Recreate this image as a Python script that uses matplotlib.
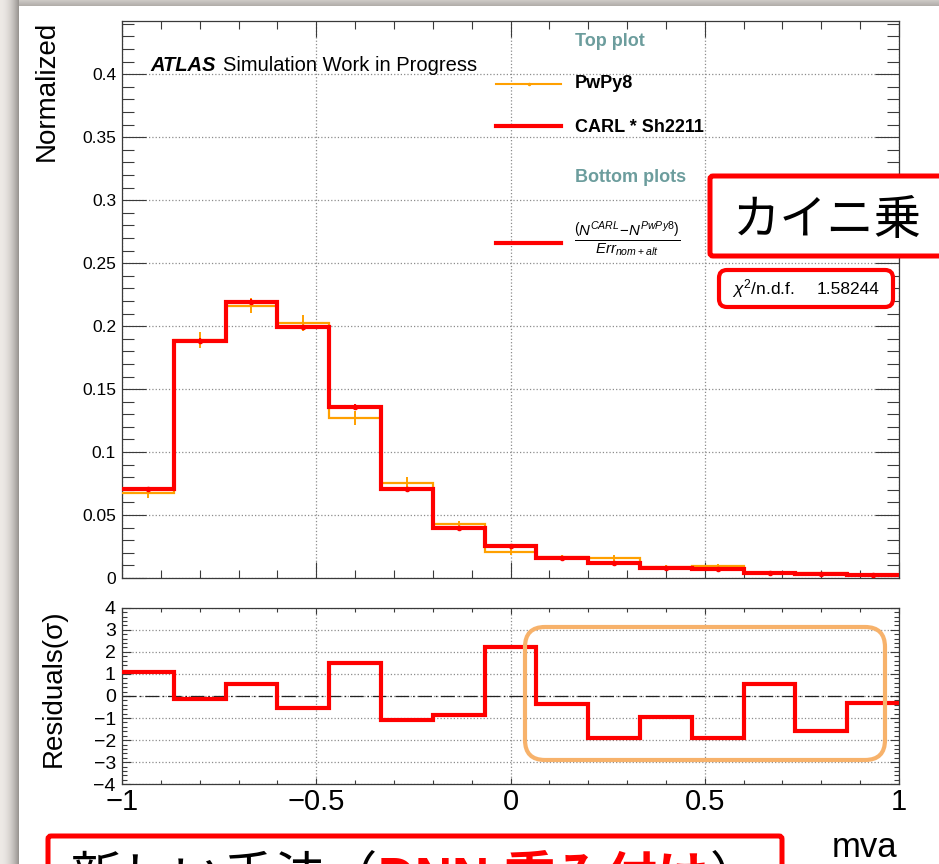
import numpy as np
import matplotlib
matplotlib.use('Agg')
import matplotlib.pyplot as plt
from matplotlib.patches import FancyBboxPatch
from matplotlib.lines import Line2D
from matplotlib.ticker import MultipleLocator, FuncFormatter

plt.rcParams['font.family'] = ['Liberation Sans', 'Noto Sans CJK JP', 'DejaVu Sans']
plt.rcParams['mathtext.fontset'] = 'custom'
plt.rcParams['mathtext.rm'] = 'Liberation Sans'
plt.rcParams['mathtext.it'] = 'Liberation Sans:italic'
plt.rcParams['mathtext.bf'] = 'Liberation Sans:bold'
plt.rcParams['axes.unicode_minus'] = True

# ---------------- data ----------------
x_min, x_max, n_bins = -1.0, 1.0, 15
carl_sh2211 = [0.0709, 0.1885, 0.2195, 0.1990, 0.1360, 0.0709, 0.0400, 0.0257,
               0.0161, 0.0119, 0.0079, 0.0069, 0.0042, 0.0030, 0.0021]
carl_err = [0.0015, 0.0020, 0.0020, 0.0020, 0.0018, 0.0015, 0.0012, 0.0010,
            0.0008, 0.0007, 0.0005, 0.0005, 0.0004, 0.0003, 0.0003]
pwpy8 = [0.0678, 0.1890, 0.2163, 0.2025, 0.1273, 0.0755, 0.0426, 0.0209,
         0.0165, 0.0156, 0.0087, 0.0093, 0.0042, 0.0037, 0.0020]
pwpy8_err = [0.0044, 0.0064, 0.0060, 0.0062, 0.0056, 0.0049, 0.0030, 0.0026,
             0.0020, 0.0024, 0.0017, 0.0017, 0.0010, 0.0010, 0.0007]
residuals = [1.07, -0.12, 0.56, -0.53, 1.49, -1.07, -0.86, 2.22,
             -0.38, -1.92, -0.94, -1.89, 0.54, -1.60, -0.33]
chi2_ndf = "1.58244"
x_ticks = [-1, -0.5, 0, 0.5, 1]

edges = np.linspace(x_min, x_max, n_bins + 1)
centers = 0.5 * (edges[:-1] + edges[1:])

W, H = 939, 864
fig = plt.figure(figsize=(W / 100, H / 100), dpi=100)
fig.patch.set_facecolor('white')

def fx(px):
    return px / W

def fy(py):
    return 1 - py / H

# ---------------- background (slide frame / shadow) ----------------
bg = fig.add_axes([0, 0, 1, 1], zorder=-10)
bg.axis('off')
img = np.ones((H, W, 3))
for x in range(19):
    t = (x / 18.0) ** 2
    c = np.array([0.93, 0.915, 0.90]) * (1 - t) + np.array([0.60, 0.585, 0.57]) * t
    img[:, x, :] = c
for y in range(6):
    t = y / 5.0
    c = np.array([0.80, 0.785, 0.77]) * (1 - t) + np.array([0.70, 0.685, 0.67]) * t
    img[y, 19:, :] = c
bg.imshow(img, extent=[0, W, H, 0], aspect='auto', interpolation='bilinear')
bg.set_xlim(0, W)
bg.set_ylim(H, 0)

spine_c = '#3a3a3a'
grid_kw = dict(linestyle=':', color='#8c8c8c', linewidth=0.9)
fmt = FuncFormatter(lambda v, p: f'{v:g}'.replace('-', '\u2212'))

# ---------------- top axes ----------------
ax1 = fig.add_axes([fx(122), fy(578), fx(899) - fx(122), (578 - 20.5) / H])
ax1.set_xlim(x_min, x_max)
ax1.set_ylim(0, 0.4427)
ax1.set_axisbelow(True)
ax1.grid(True, which='major', **grid_kw)
ax1.stairs(pwpy8, edges, color='#FFA000', lw=1.6, baseline=None, zorder=3)
ax1.errorbar(centers, pwpy8, yerr=pwpy8_err, fmt='none', ecolor='#FFA000',
             elinewidth=1.4, zorder=3)
ax1.stairs(carl_sh2211, edges, color='#FF0000', lw=3.0, baseline=None, zorder=4)
ax1.errorbar(centers, carl_sh2211, yerr=carl_err, fmt='o', ms=3, color='#FF0000',
             elinewidth=1.4, zorder=5)
ax1.xaxis.set_major_locator(MultipleLocator(0.5))
ax1.xaxis.set_minor_locator(MultipleLocator(0.1))
ax1.yaxis.set_major_locator(MultipleLocator(0.05))
ax1.yaxis.set_minor_locator(MultipleLocator(0.01))
ax1.yaxis.set_major_formatter(fmt)
ax1.tick_params(which='both', direction='in', top=True, right=True, colors=spine_c, width=0.8)
ax1.tick_params(axis='x', which='major', length=11.5, labelbottom=False)
ax1.tick_params(axis='x', which='minor', length=5.8)
ax1.tick_params(axis='y', which='major', length=17, labelsize=12.5, pad=4.3, labelcolor='black')
ax1.tick_params(axis='y', which='minor', length=8.6)
for s in ax1.spines.values():
    s.set_color(spine_c)
    s.set_linewidth(0.9)

# ---------------- bottom axes ----------------
ax2 = fig.add_axes([fx(122), fy(784.3), fx(899) - fx(122), (784.3 - 607.7) / H])
ax2.set_xlim(x_min, x_max)
ax2.set_ylim(-4, 4)
ax2.set_axisbelow(True)
ax2.grid(True, which='major', **grid_kw)
ax2.axhline(0, color='#222222', lw=0.9, linestyle=(0, (11, 3, 1.2, 3)), zorder=2)
ax2.stairs(residuals, edges, color='#FF0000', lw=3.0, baseline=None, zorder=4)
ax2.set_xticks(x_ticks)
ax2.xaxis.set_minor_locator(MultipleLocator(0.1))
ax2.yaxis.set_major_locator(MultipleLocator(1))
ax2.yaxis.set_minor_locator(MultipleLocator(0.2))
ax2.xaxis.set_major_formatter(fmt)
ax2.yaxis.set_major_formatter(fmt)
ax2.tick_params(which='both', direction='in', top=True, right=True, colors=spine_c, width=0.8)
ax2.tick_params(axis='x', which='major', length=4.5, labelsize=21, pad=3, labelcolor='black')
ax2.tick_params(axis='x', which='minor', length=3)
ax2.tick_params(axis='y', which='major', length=6.5, labelsize=14, pad=4.5, labelcolor='black')
ax2.tick_params(axis='y', which='minor', length=3.6)
for s in ax2.spines.values():
    s.set_color(spine_c)
    s.set_linewidth(0.9)

# ---------------- overlay (pixel coordinates, y down) ----------------
ov = fig.add_axes([0, 0, 1, 1], zorder=10)
ov.set_xlim(0, W)
ov.set_ylim(H, 0)
ov.axis('off')
ov.patch.set_alpha(0)

# axis titles
ov.text(47, 20.5, 'Normalized', rotation=90, ha='center', va='top', fontsize=20)
ov.text(54, 688, 'Residuals(σ)', rotation=90, ha='center', va='center', fontsize=20)
ov.text(897, 857, 'mva', ha='right', va='baseline', fontsize=25)

# ATLAS label
ov.text(150, 71, 'ATLAS', fontsize=14.5, weight='bold', style='italic', va='baseline')
ov.text(223, 71, 'Simulation Work in Progress', fontsize=14.5, va='baseline')

# legend
teal = '#6C9D9D'
ov.text(575, 41, 'Top plot', fontsize=13, weight='bold', color=teal, va='center')
ov.add_line(Line2D([496, 561], [84, 84], color='#FFA000', lw=1.5))
ov.plot([528.5], [84], marker='o', ms=1.5, color='#FFA000')
ov.text(575, 83, 'PwPy8', fontsize=13, weight='bold', va='center')
ov.add_line(Line2D([496, 561], [126, 126], color='#FF0000', lw=3))
ov.text(575, 127, 'CARL * Sh2211', fontsize=13, weight='bold', va='center')
ov.text(575, 178, 'Bottom plots', fontsize=13, weight='bold', color=teal, va='center')
ov.add_line(Line2D([496, 561], [243, 243], color='#FF0000', lw=3))
ov.text(574, 240, r'$\frac{\left(N^{CARL}\!-\!N^{PwPy8}\right)}{Err_{nom+alt}}$',
        fontsize=15.5, ha='left', va='center')

# chi2 box
ov.add_patch(FancyBboxPatch((719, 270), 174, 37, boxstyle='round,pad=0,rounding_size=8',
                            ec='#FF0000', fc='white', lw=3, zorder=5))
ov.text(732, 289, r'$\chi^2$/n.d.f.', fontsize=12.5, va='center', zorder=6)
ov.text(879, 289, chi2_ndf, fontsize=12.5, va='center', ha='right', zorder=6)

# annotation box "カイニ乗"
ov.add_patch(FancyBboxPatch((710, 176), 250, 80, boxstyle='round,pad=0,rounding_size=3',
                            ec='#FF0000', fc='white', lw=3.6, zorder=5, clip_on=False))
ov.text(733, 234, 'カイニ乗', fontsize=34, family=['Noto Sans CJK JP'], va='baseline', zorder=6)

# orange highlight box in residual panel
ov.add_patch(FancyBboxPatch((525, 627), 360, 133, boxstyle='round,pad=0,rounding_size=20',
                            ec='#F7B26B', fc='none', lw=3, zorder=5))

# bottom annotation box
ov.add_patch(FancyBboxPatch((48, 836), 734, 80, boxstyle='round,pad=0,rounding_size=3',
                            ec='#FF0000', fc='white', lw=3.6, zorder=5, clip_on=False))
fig.canvas.draw()
r = fig.canvas.get_renderer()
x0 = 70
parts = [('新しい手法（', 'black', 'normal', ['Noto Sans CJK JP']),
         ('DNN ', '#FF0000', 'bold', ['Liberation Sans', 'Noto Sans CJK JP']),
         ('重み付け', '#FF0000', 'bold', ['Noto Sans CJK JP']),
         ('）', 'black', 'normal', ['Noto Sans CJK JP'])]
for txt, col, wt, fam in parts:
    t = ov.text(x0, 894, txt, fontsize=37, family=fam, color=col,
                weight=wt, va='baseline', zorder=6, clip_on=False)
    bb = t.get_window_extent(r)
    x0 += bb.width

fig.savefig('out.png', dpi=100)
